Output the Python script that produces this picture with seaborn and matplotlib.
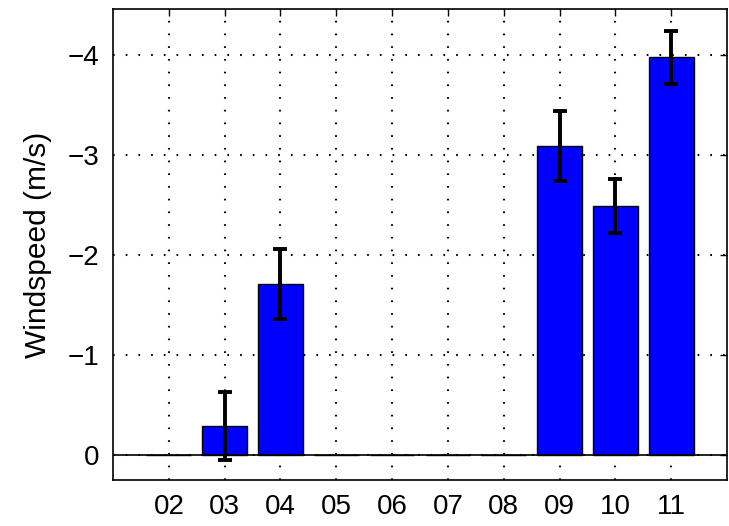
import matplotlib
matplotlib.use("Agg")
import matplotlib.pyplot as plt
import seaborn as sns
import pandas as pd

months = ["02", "03", "04", "05", "06", "07", "08", "09", "10", "11"]
windspeed = [0.0, -0.29, -1.71, 0.0, 0.0, 0.0, 0.0, -3.09, -2.49, -3.98]
errors = [0.0, 0.34, 0.35, 0.0, 0.0, 0.0, 0.0, 0.35, 0.265, 0.265]
yticks = [0, -1, -2, -3, -4]

sns.set_style("white")
plt.rcParams["font.family"] = ["Liberation Sans", "DejaVu Sans"]
plt.rcParams["text.color"] = "black"
plt.rcParams["axes.labelcolor"] = "black"

df = pd.DataFrame({"month": months, "speed": windspeed, "err": errors})

fig = plt.figure(figsize=(7.29, 5.26), dpi=100)
ax = fig.add_axes([113 / 729, 46 / 526, 614 / 729, 471 / 526])

sns.barplot(data=df, x="month", y="speed", order=months, color="#0000ff",
            saturation=1, width=0.8, edgecolor="black", linewidth=1.0,
            errorbar=None, ax=ax, zorder=3)

has_err = df["err"] > 0
xpos = [months.index(m) for m in df.loc[has_err, "month"]]
ax.errorbar(xpos, df.loc[has_err, "speed"], yerr=df.loc[has_err, "err"],
            fmt="none", ecolor="black", elinewidth=2.8, capsize=5,
            capthick=2.8, zorder=5)

ax.axhline(0, color="black", lw=1.2, zorder=4)

ax.set_xlim(-1, len(months))
ax.set_ylim(0.25, -4.46)
ax.set_yticks(yticks)
ax.set_yticklabels([str(v).replace("-", "\u2212") for v in yticks])
ax.set_xlabel("")
ax.set_ylabel("Windspeed (m/s)", fontsize=21.5, labelpad=11, color="black")

ax.grid(True, color="black", linestyle=(0, (0.8, 5.3)), linewidth=1.5, zorder=0)
ax.set_axisbelow(True)
ax.tick_params(direction="in", length=5, width=1.0, top=True, right=True,
               labelsize=20, colors="black", pad=10)
for s in ax.spines.values():
    s.set_visible(True)
    s.set_color("black")
    s.set_linewidth(1.2)

fig.savefig("out.png", dpi=100)
